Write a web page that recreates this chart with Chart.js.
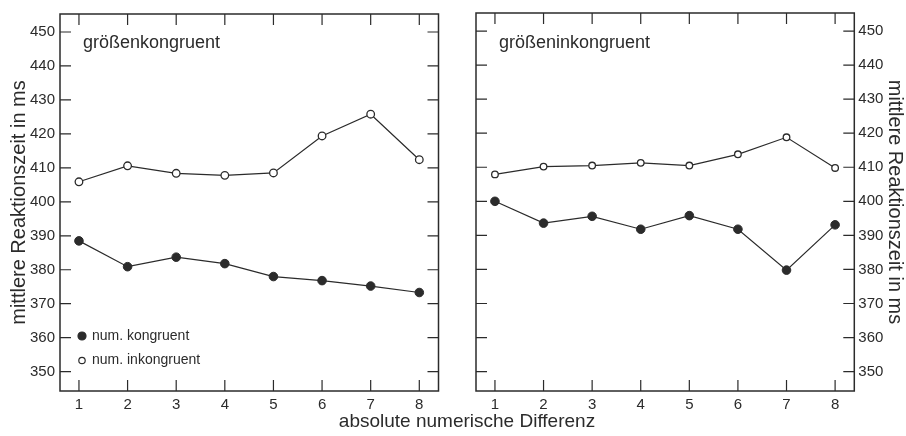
<!DOCTYPE html>
<html>
<head>
<meta charset="utf-8">
<script src="https://cdn.jsdelivr.net/npm/chart.js@4.4.1/dist/chart.umd.min.js"></script>
<style>
  html, body { margin: 0; padding: 0; background: #fff; }
  #wrap { position: relative; width: 906px; height: 436px; overflow: hidden; }
  canvas { position: absolute; top: 0; }
  #xtitle {
    position: absolute; left: 0; width: 934px; top: 410px;
    text-align: center; font: 19px "Liberation Sans", Arial, sans-serif; color: #2b2b2b;
  }
</style>
</head>
<body>
<div id="wrap">
  <canvas id="left" width="457" height="436" style="left:0"></canvas>
  <canvas id="right" width="449" height="436" style="left:457px"></canvas>
  <div id="xtitle">absolute numerische Differenz</div>
</div>
<script>
// absolute numerical distance
const categories = [1, 2, 3, 4, 5, 6, 7, 8];
const yTicks = [350, 360, 370, 380, 390, 400, 410, 420, 430, 440, 450];

// größenkongruent
const kongruentLeft = [388.5, 380.9, 383.7, 381.8, 378.0, 376.8, 375.2, 373.3];
const inkongruentLeft = [405.9, 410.6, 408.4, 407.8, 408.5, 419.4, 425.8, 412.4];
// größeninkongruent
const kongruentRight = [400.0, 393.6, 395.6, 391.8, 395.8, 391.8, 379.8, 393.1];
const inkongruentRight = [407.9, 410.2, 410.5, 411.3, 410.5, 413.8, 418.8, 409.8];

const seriesNames = ['num. kongruent', 'num. inkongruent'];
const yTitle = 'mittlere Reaktionszeit in ms';

const FONT = '"Liberation Sans", Arial, sans-serif';
const INK = '#2b2b2b';

// frame + inward tick marks on all four sides, panel caption, optional legend
const framePlugin = {
  id: 'frame',
  beforeDatasetsDraw(chart, args, opts) {
    const { ctx, chartArea: a, scales } = chart;
    const len = 11;
    ctx.save();
    ctx.strokeStyle = INK;
    ctx.lineWidth = 1.2;
    ctx.beginPath();
    scales.x.ticks.forEach(t => {
      const px = scales.x.getPixelForValue(t.value);
      ctx.moveTo(px, a.top); ctx.lineTo(px, a.top + len);
      ctx.moveTo(px, a.bottom); ctx.lineTo(px, a.bottom - len);
    });
    scales.y.ticks.forEach(t => {
      const py = scales.y.getPixelForValue(t.value);
      ctx.moveTo(a.left, py); ctx.lineTo(a.left + len, py);
      ctx.moveTo(a.right, py); ctx.lineTo(a.right - len, py);
    });
    ctx.stroke();
    ctx.lineWidth = 1.5;
    ctx.strokeRect(a.left, a.top, a.right - a.left, a.bottom - a.top);

    ctx.fillStyle = INK;
    ctx.font = '18px ' + FONT;
    ctx.textBaseline = 'alphabetic';
    ctx.fillText(opts.caption, a.left + opts.captionDx, 48);

    if (opts.legend) {
      const lx = a.left + 22;
      ctx.font = '14px ' + FONT;
      ctx.textBaseline = 'middle';
      chart.data.datasets.forEach((ds, i) => {
        const ly = 336 + i * 24.5;
        ctx.beginPath();
        ctx.arc(lx, ly, i === 0 ? 4 : 3.2, 0, Math.PI * 2);
        ctx.fillStyle = ds.pointBackgroundColor;
        ctx.fill();
        ctx.lineWidth = 1.2;
        ctx.strokeStyle = INK;
        ctx.stroke();
        ctx.fillStyle = INK;
        ctx.fillText(ds.label, lx + 10, ly);
      });
    }
    ctx.restore();
  }
};

function points(values) {
  return categories.map((c, i) => ({ x: c, y: values[i] }));
}

function makePanel(id, side, caption, filled, open, cfg) {
  const ctx = document.getElementById(id).getContext('2d');
  return new Chart(ctx, {
    type: 'line',
    data: {
      datasets: [
        {
          label: seriesNames[0],
          data: points(filled),
          borderColor: INK,
          borderWidth: 1.2,
          pointBackgroundColor: INK,
          pointBorderColor: INK,
          pointBorderWidth: 1,
          pointRadius: 4.3,
          tension: 0
        },
        {
          label: seriesNames[1],
          data: points(open),
          borderColor: INK,
          borderWidth: 1.2,
          pointBackgroundColor: '#ffffff',
          pointBorderColor: INK,
          pointBorderWidth: 1.3,
          pointRadius: cfg.openRadius,
          tension: 0
        }
      ]
    },
    options: {
      responsive: false,
      animation: false,
      layout: { padding: cfg.padding },
      plugins: {
        legend: { display: false },
        tooltip: { enabled: false },
        frame: { caption: caption, captionDx: cfg.captionDx, legend: cfg.legend }
      },
      scales: {
        x: {
          type: 'linear',
          min: 0.61,
          max: 8.395,
          grid: { display: false, drawTicks: false },
          border: { display: false },
          afterBuildTicks: s => { s.ticks = categories.map(v => ({ value: v })); },
          afterFit: s => { s.height = 45; },
          ticks: { color: INK, font: { family: FONT, size: 15 }, padding: 5, maxRotation: 0 }
        },
        y: {
          position: side,
          min: 344.3,
          max: 455.3,
          grid: { display: false, drawTicks: false },
          border: { display: false },
          afterBuildTicks: s => { s.ticks = yTicks.map(v => ({ value: v })); },
          afterFit: s => { s.width = cfg.yWidth; },
          ticks: { color: INK, font: { family: FONT, size: 15 }, padding: cfg.tickPad },
          title: {
            display: true,
            text: yTitle,
            color: INK,
            font: { family: FONT, size: 20 },
            padding: { top: cfg.titlePad, bottom: 0 }
          }
        }
      }
    },
    plugins: [framePlugin]
  });
}

makePanel('left', 'left', 'größenkongruent', kongruentLeft, inkongruentLeft, {
  padding: { top: 13, bottom: 0, left: 0, right: 18.5 },
  yWidth: 60, tickPad: 5, titlePad: 7, openRadius: 3.8, captionDx: 23, legend: true
});

makePanel('right', 'right', 'größeninkongruent', kongruentRight, inkongruentRight, {
  padding: { top: 13, bottom: 0, left: 19, right: 0 },
  yWidth: 51.7, tickPad: 4, titlePad: -1, openRadius: 3.3, captionDx: 23, legend: false
});
</script>
</body>
</html>
